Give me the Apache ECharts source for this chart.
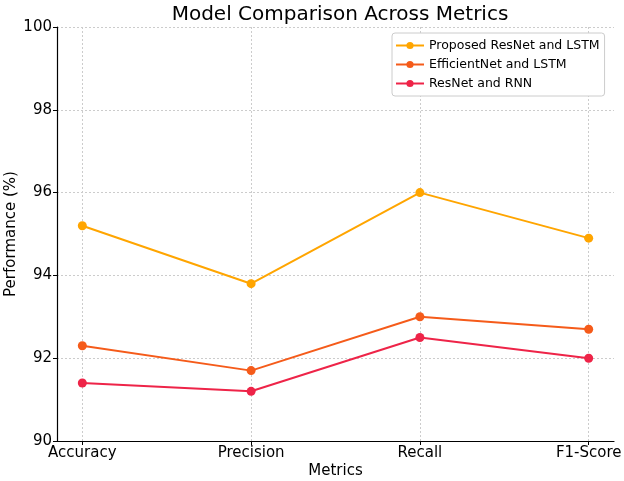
<!DOCTYPE html>
<html><head><meta charset="utf-8">
<script src="https://cdn.jsdelivr.net/npm/echarts@6/dist/echarts.min.js"></script>
<style>html,body{margin:0;padding:0;background:#fff}#c{width:624px;height:481px}</style>
</head><body><div id="c"></div>
<script>
const categories = ["Accuracy", "Precision", "Recall", "F1-Score"];
const proposed = [95.2, 93.8, 96.0, 94.9];
const efficientNet = [92.3, 91.7, 93.0, 92.7];
const resnetRnn = [91.4, 91.2, 92.5, 92.0];
const yTicks = [90, 92, 94, 96, 98, 100];

const idx = categories.map((_, i) => i);
const font = "DejaVu Sans";
function mk(name, vals, color) {
  return {
    name, type: "line", data: vals.map((v, i) => [i, v]),
    symbol: "circle", symbolSize: 9, showSymbol: true,
    lineStyle: { color, width: 2 }, itemStyle: { color },
    emphasis: { disabled: true }, animation: false
  };
}
const chart = echarts.init(document.getElementById("c"), null, { renderer: "canvas" });
chart.setOption({
  animation: false,
  backgroundColor: "#fff",
  title: { text: "Model Comparison Across Metrics", left: 335, textAlign: "center", top: 0,
    textStyle: { fontFamily: font, fontSize: 20, fontWeight: "normal", color: "#000" } },
  legend: {
    orient: "vertical", left: 392, top: 33, itemWidth: 28, itemHeight: 9, itemGap: 6,
    backgroundColor: "#fff", borderColor: "#cccccc", borderWidth: 1, borderRadius: 3,
    padding: [6, 5, 6, 3],
    textStyle: { fontFamily: font, fontSize: 12.5, color: "#000" },
    data: ["Proposed ResNet and LSTM", "EfficientNet and LSTM", "ResNet and RNN"]
  },
  grid: { left: 57, right: 10, top: 27, bottom: 40, containLabel: false, outerBoundsMode: "none" },
  xAxis: {
    type: "value", min: -0.15, max: 3.15,
    name: "Metrics", nameLocation: "middle", nameGap: 23, nameMoveOverlap: false,
    nameTextStyle: { fontFamily: font, fontSize: 15, color: "#000" },
    axisLine: { show: true, onZero: false, lineStyle: { color: "#000", width: 1.2 } },
    axisTick: { show: true, customValues: idx, length: 4, lineStyle: { color: "#000" } },
    axisLabel: { customValues: idx, formatter: v => categories[Math.round(v)], margin: 5,
      fontFamily: font, fontSize: 15, color: "#000", hideOverlap: false },
    splitLine: { show: true, lineStyle: { type: [2, 2], color: "#cccccc", width: 1 } }
  },
  yAxis: {
    type: "value", min: 90, max: 100, interval: 2,
    name: "Performance (%)", nameLocation: "middle", nameGap: 38, nameMoveOverlap: false,
    nameTextStyle: { fontFamily: font, fontSize: 15, color: "#000" },
    axisLine: { show: true, onZero: false, lineStyle: { color: "#000", width: 1.2 } },
    axisTick: { show: true, length: 4, lineStyle: { color: "#000" } },
    axisLabel: { fontFamily: font, fontSize: 15, color: "#000", margin: 5,
      formatter: v => yTicks.includes(v) ? String(v) : "" },
    splitLine: { show: true, lineStyle: { type: [2, 2], color: "#cccccc", width: 1 } }
  },
  series: [
    mk("Proposed ResNet and LSTM", proposed, "#FFA500"),
    mk("EfficientNet and LSTM", efficientNet, "#F55B1A"),
    mk("ResNet and RNN", resnetRnn, "#EE2448")
  ]
});
</script></body></html>
